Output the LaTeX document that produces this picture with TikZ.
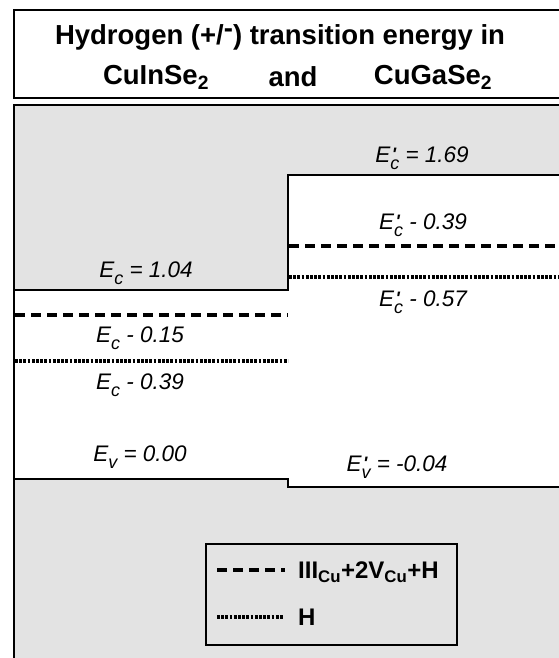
\documentclass[tikz,border=0pt]{standalone}
\usepackage{fontspec}
\setmainfont{Liberation Sans}
\usetikzlibrary{positioning}

% E with sub- and superscript stacked
\newcommand{\idx}{\fontsize{18}{18}\selectfont}
\newcommand{\lev}[2]{E\makebox[0pt][l]{\raisebox{-7pt}[0pt][0pt]{\idx #1}}\makebox[0pt][l]{\raisebox{2pt}{\idx #2}}\hphantom{\idx #1}}
\newcommand{\pr}{\kern1.5pt\textbf{\textquotesingle}}

\tikzset{
  level/.style={line width=1.6pt},
  defectA/.style={line width=3.6pt, dash pattern=on 9.5pt off 6.5pt},
  defectH/.style={line width=3.4pt, dash pattern=on 2.7pt off 1.5pt},
  energy/.style={font=\fontsize{22.5}{26}\selectfont\itshape},
  titletxt/.style={font=\fontsize{27.5}{31}\selectfont\bfseries},
  legendtxt/.style={font=\fontsize{24}{27}\selectfont\bfseries, anchor=west, inner sep=0pt}
}

\begin{document}
\begin{tikzpicture}[x=1pt,y=-1pt]
\useasboundingbox (0,0) rectangle (559,658);

% Title box
\draw[line width=2pt] (559,10) -- (14,10) -- (14,98) -- (559,98);
\node[titletxt] (title) at (280,37) {Hydrogen (+/\raisebox{.45ex}{-}) transition energy in};
\node[titletxt] (cis) at (156,77) {CuInSe\textsubscript{2}};
\node[titletxt] (and) at (293,77) {and};
\node[titletxt] (cgs) at (433,77) {CuGaSe\textsubscript{2}};

% Panel
\fill[black!11] (14,105) rectangle (559,658);

% Gap
\fill[white] (14,290) -- (288,290) -- (288,175) -- (559,175) -- (559,487)
  -- (288,487) -- (288,479) -- (14,479) -- cycle;
\draw[level] (14,290) -- (288,290) -- (288,175) -- (559,175);
\draw[level] (14,479) -- (288,479) -- (288,487) -- (559,487);
\draw[line width=2pt] (559,105) -- (14,105) -- (14,658);

% Defect levels
\draw[defectA] (15,315) -- (288,315);
\draw[defectH] (15,361) -- (288,361);
\draw[defectA] (289,246) -- (559,246);
\draw[defectH] (289,277) -- (559,277);

% Labels
\node[energy] (ec) at (146,270) {\lev{c}{} = 1.04};
\node[energy] (ecA) at (140,335) {\lev{c}{} - 0.15};
\node[energy] (ecH) at (140,382) {\lev{c}{} - 0.39};
\node[energy] (ev) at (140,454) {\lev{v}{} = 0.00};
\node[energy] (ecp) at (422,155) {\lev{c}{\pr} = 1.69};
\node[energy] (ecpA) at (423,222) {\lev{c}{\pr} - 0.39};
\node[energy] (ecpH) at (423,299) {\lev{c}{\pr} - 0.57};
\node[energy] (evp) at (397,464) {\lev{v}{\pr} = -0.04};

% Legend
\draw[line width=1.3pt] (206,544) rectangle (457,645);
\draw[defectA] (217,570) -- (285,570);
\draw[defectH] (217,617) -- (283,617);
\node[legendtxt] (legA) at (298,572) {III\textsubscript{Cu}+2V\textsubscript{Cu}+H};
\node[legendtxt] (legH) at (298,617) {H};

\end{tikzpicture}
\end{document}
